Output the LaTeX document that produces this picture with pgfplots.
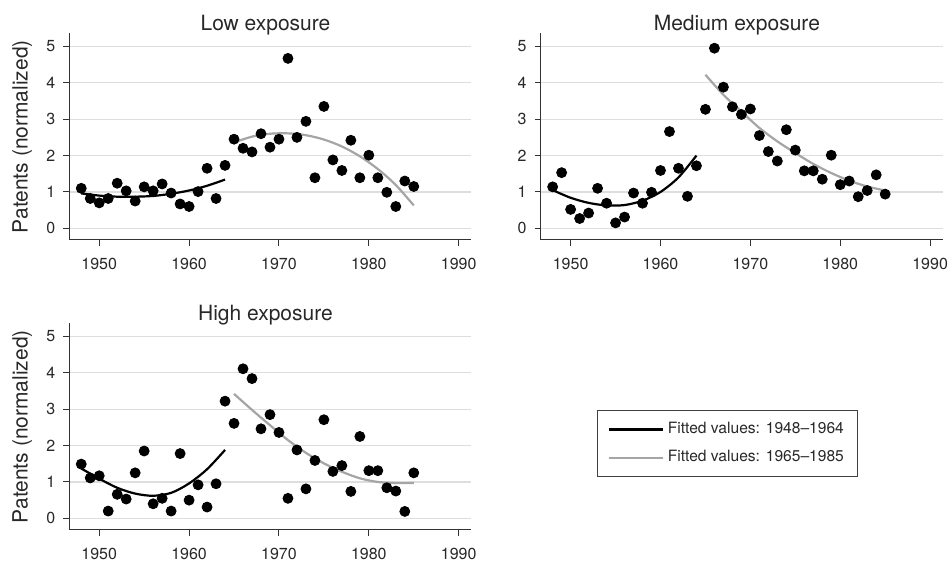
\documentclass[border=0pt]{standalone}
\usepackage{fontspec}
\setmainfont{TeX Gyre Heros}
\usepackage{pgfplots}
\pgfplotsset{compat=1.18}

\definecolor{gridc}{RGB}{222,222,222}
\definecolor{fitgray}{RGB}{165,165,165}
\definecolor{txt}{RGB}{40,40,40}

\pgfplotsset{
 panel/.style={
  scale only axis, width=201pt, height=103.35pt,
  xmin=1946.67, xmax=1991.4, ymin=-0.32, ymax=5.36,
  axis x line*=bottom, axis y line*=left,
  axis line style={black!80, line width=0.5pt, -},
  xtick={1950,1960,...,1990}, ytick={0,...,5},
  tick align=outside, major tick length=3pt,
  tick style={black!80, line width=0.5pt},
  ymajorgrids, grid style={gridc, line width=0.6pt},
  /pgf/number format/1000 sep={},
  /pgf/number format/assume math mode=true,
  ticklabel style={font=\fontsize{8}{9}\selectfont, text=txt},
  xticklabel style={yshift=-2.5pt},
  yticklabel style={xshift=-0.5pt},
  every axis title shift=0pt,
  title style={font=\fontsize{10.5}{12}\selectfont, text=txt, at={(axis description cs:0.488,1)}, anchor=base, yshift=1.5pt},
  ylabel style={font=\fontsize{10.5}{12}\selectfont, text=txt, at={(axis description cs:-0.117,0.5)}, anchor=center},
  clip=false,
 },
 dots/.style={only marks, mark=*, mark size=2.5pt, black, mark options={fill=black, draw=black}, forget plot},
 fitA/.style={black, line width=1.1pt, smooth, no marks},
 fitB/.style={fitgray, line width=1.1pt, smooth, no marks},
}

\begin{document}
\begin{tikzpicture}
\useasboundingbox (0,0) rectangle (475pt,280.5pt);

% ---------------- Low exposure
\begin{axis}[panel, at={(34.65pt,160.5pt)}, anchor=south west,
  title={Low exposure}, ylabel={Patents (normalized)}]
\addplot[dots] table {
1948 1.10
1949 0.82
1950 0.70
1951 0.82
1952 1.24
1953 1.03
1954 0.75
1955 1.14
1956 1.03
1957 1.22
1958 0.97
1959 0.67
1960 0.60
1961 1.01
1962 1.65
1963 0.82
1964 1.73
1965 2.45
1966 2.20
1967 2.10
1968 2.60
1969 2.23
1970 2.45
1971 4.67
1972 2.50
1973 2.94
1974 1.39
1975 3.35
1976 1.88
1977 1.59
1978 2.42
1979 1.39
1980 2.01
1981 1.39
1982 0.99
1983 0.60
1984 1.30
1985 1.15
};
\addplot[fitA] coordinates {(1948,0.96) (1950,0.90) (1952,0.87) (1954,0.87) (1956,0.89) (1958,0.95) (1960,1.04) (1962,1.17) (1964,1.34)};
\addplot[fitB] coordinates {(1965,2.36) (1967,2.52) (1969,2.60) (1971,2.61) (1973,2.56) (1975,2.44) (1977,2.25) (1979,1.98) (1981,1.63) (1983,1.19) (1985,0.63)};
\end{axis}

% ---------------- Medium exposure
\begin{axis}[panel, at={(270.35pt,160.5pt)}, anchor=south west,
  title={Medium exposure}]
\addplot[dots] table {
1948 1.14
1949 1.53
1950 0.52
1951 0.27
1952 0.42
1953 1.10
1954 0.69
1955 0.15
1956 0.31
1957 0.97
1958 0.69
1959 0.99
1960 1.59
1961 2.66
1962 1.65
1963 0.88
1964 1.72
1965 3.27
1966 4.95
1967 3.88
1968 3.34
1969 3.13
1970 3.28
1971 2.55
1972 2.11
1973 1.85
1974 2.71
1975 2.15
1976 1.58
1977 1.58
1978 1.35
1979 2.01
1980 1.20
1981 1.30
1982 0.87
1983 1.04
1984 1.47
1985 0.94
};
\addplot[fitA] coordinates {(1948,1.05) (1950,0.84) (1952,0.70) (1954,0.63) (1956,0.64) (1958,0.76) (1960,1.00) (1962,1.40) (1964,2.00)};
\addplot[fitB] coordinates {(1965,4.22) (1967,3.67) (1969,3.21) (1971,2.76) (1973,2.39) (1975,2.07) (1977,1.77) (1979,1.52) (1981,1.31) (1983,1.15) (1985,1.04)};
\end{axis}

% ---------------- High exposure
\begin{axis}[panel, at={(34.65pt,15.5pt)}, anchor=south west,
  title={High exposure}, ylabel={Patents (normalized)},
  legend style={at={(axis description cs:1.638,0.418)}, anchor=center,
    draw=black!75, line width=0.5pt, fill=none, inner xsep=5pt, inner ysep=4pt,
    font=\fontsize{7.8}{9}\selectfont, text=txt, row sep=3pt},
  legend cell align=left,
  legend image code/.code={\draw[#1] (0pt,0pt) -- (27pt,0pt);}]
\addplot[dots] table {
1948 1.49
1949 1.11
1950 1.17
1951 0.20
1952 0.66
1953 0.53
1954 1.25
1955 1.85
1956 0.40
1957 0.55
1958 0.20
1959 1.78
1960 0.50
1961 0.92
1962 0.31
1963 0.95
1964 3.22
1965 2.61
1966 4.11
1967 3.84
1968 2.46
1969 2.85
1970 2.36
1971 0.55
1972 1.88
1973 0.81
1974 1.59
1975 2.71
1976 1.29
1977 1.45
1978 0.74
1979 2.25
1980 1.31
1981 1.31
1982 0.84
1983 0.75
1984 0.19
1985 1.25
};
\addplot[fitA] coordinates {(1948,1.37) (1950,1.09) (1952,0.84) (1954,0.68) (1956,0.62) (1958,0.70) (1960,0.96) (1962,1.35) (1964,1.88)};
\addplot[fitB] coordinates {(1965,3.42) (1967,2.98) (1969,2.56) (1971,2.15) (1973,1.80) (1975,1.51) (1977,1.28) (1979,1.10) (1981,1.00) (1983,0.97) (1985,0.97)};
\legend{Fitted values: 1948--1964, Fitted values: 1965--1985}
\end{axis}
\end{tikzpicture}
\end{document}
